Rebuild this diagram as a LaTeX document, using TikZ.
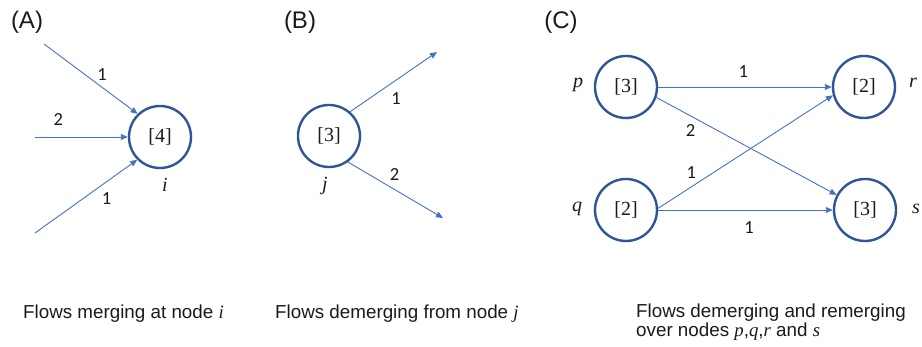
\documentclass[tikz,border=0pt]{standalone}
\usepackage{fontspec}
\setmainfont{Liberation Sans}
\newfontfamily\numfont{Carlito}
\newfontfamily\valfont{Liberation Serif}
\usetikzlibrary{arrows.meta}
\definecolor{cRing}{HTML}{2F5597}
\definecolor{cFlow}{HTML}{4472C4}
\definecolor{cInk}{HTML}{1A1A1A}
\newcommand{\nv}[1]{{\valfont\itshape #1}}
\tikzset{
  flownode/.style = {circle, draw=cRing, line width=2.4pt, minimum size=62pt,
                     inner sep=0pt, text=cInk,
                     font=\valfont\fontsize{20}{20}\selectfont},
  flow/.style     = {-{Triangle[length=7pt,width=6pt]}, draw=cFlow, line width=0.9pt},
  qty/.style      = {font=\numfont\fontsize{18.5}{18.5}\selectfont, inner sep=1pt, text=cInk},
  vname/.style    = {font=\valfont\itshape\fontsize{20}{20}\selectfont, text=cInk},
  panel/.style    = {font=\fontsize{24}{24}\selectfont, text=cInk},
  caption/.style  = {font=\fontsize{18.8}{20}\selectfont, text=cInk,
                     anchor=base west, inner sep=0pt},
}
\begin{document}
\begin{tikzpicture}[x=1pt, y=-1pt]
  \useasboundingbox (0,0) rectangle (922,347);

  % (A) merging
  \node[panel] (pA) at (27,22) {(A)};
  \node[flownode] (i) at (160,137) {[4]};
  \node[vname] (li) at (165,185) {i};
  \coordinate (a1) at (44,44);
  \coordinate (a2) at (35,137);
  \coordinate (a3) at (35,233);
  \draw[flow] (a1) -- node[qty, pos=0.62, above=5pt] (qa1) {1} (i.134);
  \draw[flow] (a2) -- node[qty, pos=0.25, above=10pt] (qa2) {2} (i.west);
  \draw[flow] (a3) -- node[qty, pos=0.7, below=9pt] (qa3) {1} (i.225);
  \node[caption] (capA) at (23,319) {Flows merging at node \nv{i}};

  % (B) demerging
  \node[panel] (pB) at (300,22) {(B)};
  \node[flownode] (j) at (329,136) {[3]};
  \node[vname] (lj) at (325,186) {j};
  \coordinate (b1) at (437,52);
  \coordinate (b2) at (443,218);
  \draw[flow] (j.49) -- node[qty, pos=0.53, below=11pt] (qb1) {1} (b1);
  \draw[flow] (j.306) -- node[qty, pos=0.49, above=8pt] (qb2) {2} (b2);
  \node[caption] (capB) at (275,319) {Flows demerging from node \nv{j}};

  % (C) demerging and remerging
  \node[panel] (pC) at (561,22) {(C)};
  \node[flownode] (p) at (626,87) {[3]};
  \node[flownode] (q) at (626,210) {[2]};
  \node[flownode] (r) at (864,87) {[2]};
  \node[flownode] (s) at (865,210) {[3]};
  \node[vname] (lp) at (578,85) {p};
  \node[vname] (lq) at (577,209) {q};
  \node[vname] (lr) at (913,83) {r};
  \node[vname] (ls) at (916,209) {s};
  \draw[flow] (p.east) -- node[qty, pos=0.49, above=8pt] (qpr) {1} (r.west);
  \draw[flow] (p.341) -- node[qty, pos=0.19, below=7pt] (qps) {2} (s.152);
  \draw[flow] (q.3) -- node[qty, pos=0.19, above=7pt] (qqr) {1} (r.195);
  \draw[flow] (q.east) -- node[qty, pos=0.52, below=10pt] (qqs) {1} (s.west);
  \node[caption] (capC) at (636,318) {Flows demerging and remerging};
  \node[caption] (capC2) at (636,337) {over nodes \nv{p},\nv{q},\nv{r} and \nv{s}};
\end{tikzpicture}
\end{document}
